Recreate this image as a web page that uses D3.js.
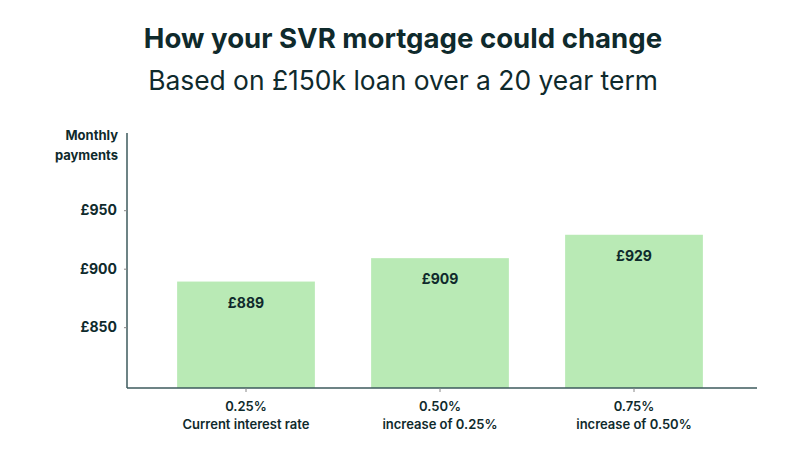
<!DOCTYPE html><html><head><meta charset="utf-8"><script src="https://cdn.jsdelivr.net/npm/d3@7"></script>
<style>body{margin:0;background:#fff}text{font-family:Inter,"Open Sans",sans-serif;fill:#0f2a2c}</style></head><body>
<svg id="c" width="800" height="455"></svg>
<script>
const categories=["0.25%|Current interest rate","0.50%|increase of 0.25%","0.75%|increase of 0.50%"];
const values=[889,909,929];
const labels=["£889","£909","£929"];
const yTicks=[850,900,950];
const svg=d3.select("#c");
svg.append("text").attr("x",403).attr("y",48).attr("text-anchor","middle").attr("font-size",27.6).attr("font-weight",700).text("How your SVR mortgage could change");
svg.append("text").attr("x",403).attr("y",90).attr("text-anchor","middle").attr("font-size",26.4).attr("font-weight",400).text("Based on £150k loan over a 20 year term");
const y=d3.scaleLinear().domain([798,1016]).range([388,133]);
const x=d3.scaleBand().domain(categories).range([149,731]).paddingInner(0.29).paddingOuter(0.145);
const col="#b9eab5";
svg.selectAll("rect").data(values).join("rect").attr("x",(d,i)=>x(categories[i])).attr("width",x.bandwidth())
 .attr("y",d=>y(d)).attr("height",d=>388-y(d)).attr("fill",col);
svg.selectAll(".vl").data(values).join("text").attr("class","vl").attr("x",(d,i)=>x(categories[i])+x.bandwidth()/2)
 .attr("y",d=>y(d)+26).attr("text-anchor","middle").attr("font-size",14).attr("font-weight",700).text((d,i)=>labels[i]);
const ya=svg.append("g").attr("transform","translate(127,0)").call(d3.axisLeft(y).tickValues(yTicks).tickSize(3).tickFormat(d=>"£"+d));
ya.select(".domain").attr("stroke","#3d5a5c").attr("stroke-width",1.5).attr("d","M0,133V388");
ya.selectAll("text").attr("font-size",14).attr("font-weight",700).attr("dx",-4).attr("fill","#0f2a2c");
ya.selectAll("line").attr("stroke","#888");
const xa=svg.append("g").attr("transform","translate(0,388)").call(d3.axisBottom(x).tickSize(4).tickFormat(""));
xa.select(".domain").attr("stroke","#3d5a5c").attr("stroke-width",1.5).attr("d","M127,0H757");
xa.selectAll("line").attr("stroke","#888");
categories.forEach(c=>{const [a,b]=c.split("|");const cx=x(c)+x.bandwidth()/2;
 const t=svg.append("text").attr("x",cx).attr("text-anchor","middle").attr("font-size",13).attr("font-weight",600);
 t.append("tspan").attr("x",cx).attr("y",411).text(a);t.append("tspan").attr("x",cx).attr("y",429).text(b);});
svg.append("text").attr("x",118).attr("y",140).attr("text-anchor","end").attr("font-size",13).attr("font-weight",700).text("Monthly");
svg.append("text").attr("x",118).attr("y",160).attr("text-anchor","end").attr("font-size",13).attr("font-weight",700).text("payments");
</script></body></html>
